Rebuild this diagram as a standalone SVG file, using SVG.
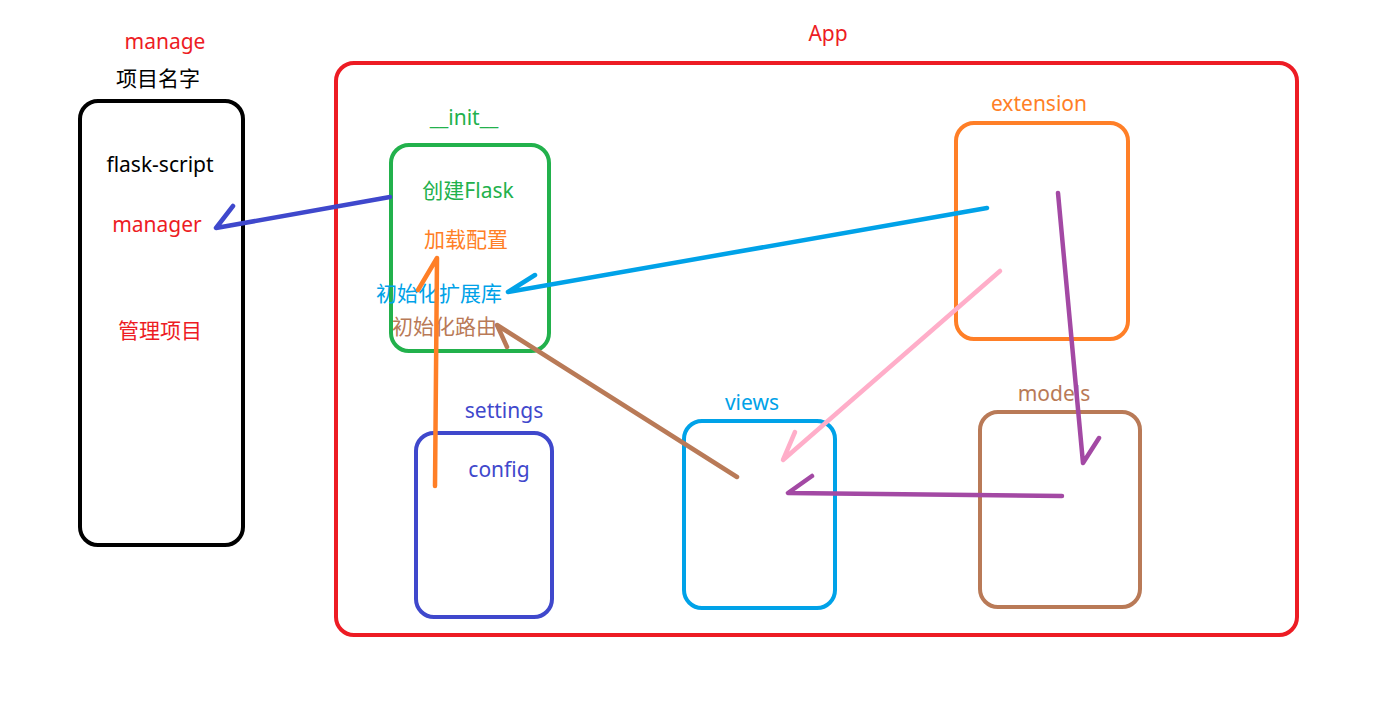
<svg xmlns="http://www.w3.org/2000/svg" width="1400" height="705" viewBox="0 0 1400 705">
<style>
text{font-family:"Noto Sans","Noto Sans CJK SC",sans-serif;font-size:21px;text-anchor:middle}
.box{fill:none;stroke-width:4}
.arr{fill:none;stroke-width:4.5;stroke-linecap:round;stroke-linejoin:round}
</style>
<rect x="0" y="0" width="1400" height="705" fill="#fff"/>
<g id="manage">
<rect class="box" x="80" y="101" width="163" height="444" rx="18" stroke="#000"/>
<text x="165" y="49" fill="#ED1C24">manage</text>
<text x="158" y="86" fill="#000">项目名字</text>
<text x="160" y="172" fill="#000">flask-script</text>
<text x="157" y="232" fill="#ED1C24">manager</text>
<text x="160" y="338" fill="#ED1C24">管理项目</text>
</g>
<g id="app">
<rect class="box" x="336" y="63" width="961" height="572" rx="18" stroke="#ED1C24"/>
<text x="828" y="41" fill="#ED1C24">App</text>
</g>
<g id="init">
<rect class="box" x="391" y="145" width="158" height="206" rx="18" stroke="#22B14C"/>
<text x="464" y="125" fill="#22B14C">__init__</text>
<text x="468" y="198" fill="#22B14C">创建Flask</text>
<text x="466" y="247" fill="#FF7F27">加载配置</text>
<text x="376" y="301" fill="#00A2E8" style="text-anchor:start">初始化扩展库</text>
<text x="392" y="334" fill="#B97A57" style="text-anchor:start">初始化路由</text>
</g>
<g id="extension">
<rect class="box" x="956" y="123" width="172" height="216" rx="18" stroke="#FF7F27"/>
<text x="1039" y="111" fill="#FF7F27">extension</text>
</g>
<g id="settings">
<rect class="box" x="416" y="433" width="136" height="184" rx="18" stroke="#3F48CC"/>
<text x="504" y="418" fill="#3F48CC">settings</text>
<text x="499" y="477" fill="#3F48CC">config</text>
</g>
<g id="views">
<rect class="box" x="684" y="421" width="151" height="187" rx="18" stroke="#00A2E8"/>
<text x="752" y="410" fill="#00A2E8">views</text>
</g>
<g id="models">
<rect class="box" x="980" y="412" width="160" height="195" rx="18" stroke="#B97A57"/>
<text x="1054" y="401" fill="#B97A57">models</text>
</g>
<g id="connectors">
<polyline class="arr" stroke="#3F48CC" points="233,206 216,228 390,197"/>
<polyline class="arr" stroke="#FF7F27" points="418,290 437,258 435,486"/>
<polyline class="arr" stroke="#00A2E8" points="535,275 508,292 987,208"/>
<polyline class="arr" stroke="#B97A57" points="507,347 497,325 737,477"/>
<polyline class="arr" stroke="#FFAEC9" points="795,432 783,460 1000,271"/>
<polyline class="arr" stroke="#A349A4" points="1099,438 1083,463 1058,193"/>
<polyline class="arr" stroke="#A349A4" points="812,476 788,493 1062,496"/>
</g>
</svg>
